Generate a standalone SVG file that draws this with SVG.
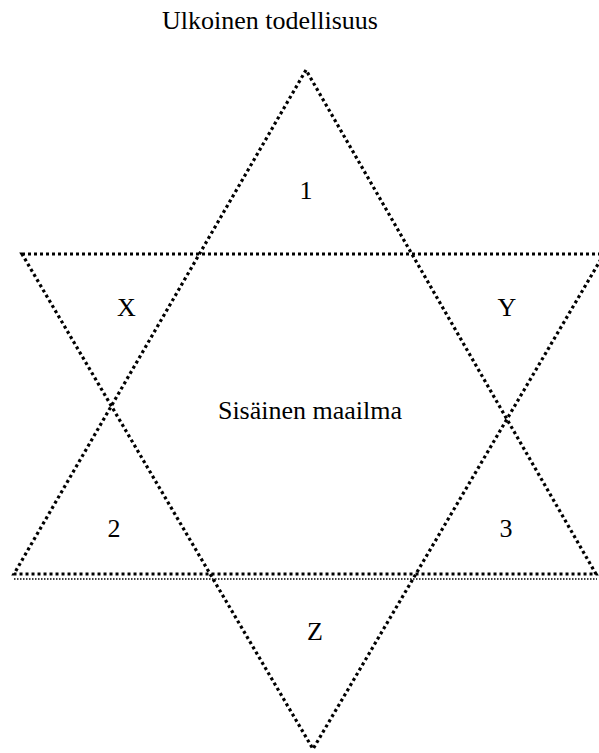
<svg xmlns="http://www.w3.org/2000/svg" width="599" height="753" viewBox="0 0 599 753">
<style>
.d{fill:none;stroke:#000;stroke-width:3.2;stroke-dasharray:3 3;stroke-linejoin:miter}
.t{fill:none;stroke:#000;stroke-width:1.5;stroke-dasharray:1.5 1.5}
text{font-family:"Liberation Serif","Times New Roman",serif;font-size:26px;fill:#000;text-anchor:middle}
</style>
<rect width="599" height="753" fill="#fff"/>
<g id="connectors">
<polygon id="up" class="d" points="306,70 14,574 596,574"/>
<polygon id="down" class="d" points="22,254 604,254 313,749"/>
<line class="t" x1="14" y1="579" x2="597" y2="579"/>
</g>
<g id="title"><text x="270" y="29">Ulkoinen todellisuus</text></g>
<g id="n1"><text x="306" y="199">1</text></g>
<g id="nX"><text x="126.5" y="316">X</text></g>
<g id="nY"><text x="507" y="316">Y</text></g>
<g id="center"><text x="310" y="419">Sisäinen maailma</text></g>
<g id="n2"><text x="114" y="537">2</text></g>
<g id="n3"><text x="506" y="537">3</text></g>
<g id="nZ"><text x="315" y="640">Z</text></g>
</svg>
